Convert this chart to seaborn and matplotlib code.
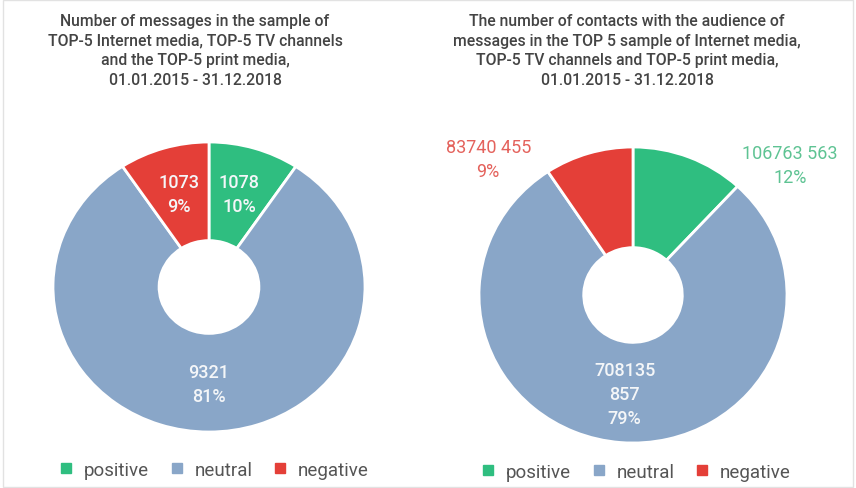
import numpy as np
import seaborn as sns
import matplotlib.pyplot as plt
from matplotlib.lines import Line2D
from matplotlib.patches import Rectangle

# ================================
# Datos
# ================================
categories = ["positive", "neutral", "negative"]

messages = [1078, 9321, 1073]
messages_pct = ["10%", "81%", "9%"]
messages_txt = ["1078", "9321", "1073"]

contacts = [106763563, 708135857, 83740455]
contacts_pct = ["12%", "79%", "9%"]
contacts_txt = ["106763 563", "708135\n857", "83740 455"]

title_left = ("Number of messages in the sample of\n"
              "TOP-5 Internet media, TOP-5 TV channels\n"
              "and the TOP-5 print media,\n"
              "01.01.2015 - 31.12.2018")
title_right = ("The number of contacts with the audience of\n"
               "messages in the TOP 5 sample of Internet media,\n"
               "TOP-5 TV channels and TOP-5 print media,\n"
               "01.01.2015 - 31.12.2018")

# Estilo visual
sns.set_theme(style="white")
plt.rcParams["font.family"] = ["Roboto", "DejaVu Sans"]

colors = sns.color_palette(["#2FBE80", "#89A6C8", "#E43F38"])
outside_colors = {"positive": "#5EC393", "negative": "#E4625C"}
W, H = 856, 489

fig = plt.figure(figsize=(W / 100, H / 100), dpi=100)


def donut_axes(cx, cy, rx, ry, lim=1.4):
    # ejes colocados en pixeles, radio 1 = rx / ry pixeles
    w, h = 2 * lim * rx, 2 * lim * ry
    ax = fig.add_axes([(cx - w / 2) / W, (H - cy - h / 2) / H, w / W, h / H])
    return ax


def donut(ax, values, texts, pcts, outside=None, lim=1.4):
    wedges, _ = ax.pie(values, colors=colors, startangle=90, counterclock=False,
                       wedgeprops=dict(width=0.68, edgecolor="white", linewidth=2))
    ax.set_aspect("auto")
    ax.set_xlim(-lim, lim)
    ax.set_ylim(-lim, lim)
    ax.axis("off")
    for cat, w, t, p in zip(categories, wedges, texts, pcts):
        if outside and cat in outside:
            x, y = outside[cat]
            ax.text(x, y, t + "\n" + p, ha="center", va="center", fontsize=13,
                    color=outside_colors[cat], linespacing=1.45)
        else:
            ang = np.deg2rad((w.theta1 + w.theta2) / 2)
            ax.text(0.67 * np.cos(ang), 0.67 * np.sin(ang), t + "\n" + p,
                    ha="center", va="center", fontsize=13, color="#F4F6F8",
                    fontweight="medium", linespacing=1.45)
    return wedges


# ==========================================================
# GRAFICA 1 - mensajes
# ==========================================================
ax1 = donut_axes(209, 288, 156, 145)
donut(ax1, messages, messages_txt, messages_pct)

# ==========================================================
# GRAFICA 2 - contactos
# ==========================================================
ax2 = donut_axes(633, 296, 154, 148)
donut(ax2, contacts, contacts_txt, contacts_pct,
      outside={"positive": (1.02, 0.88), "negative": (-0.94, 0.92)})

# Titulos
fig.text(195 / W, 1 - 51 / H, title_left, ha="center", va="center", fontsize=11.3,
         fontweight="medium", color="#444444", linespacing=1.4)
fig.text(627 / W, 1 - 51 / H, title_right, ha="center", va="center", fontsize=11.3,
         fontweight="medium", color="#444444", linespacing=1.4)

# Leyendas
handles = [Line2D([], [], marker="s", linestyle="", markersize=6.5, color=c)
           for c in colors]
for cx, cy in [(214, 471), (636, 473)]:
    fig.legend(handles, categories, loc="center", ncol=3,
               bbox_to_anchor=(cx / W, 1 - cy / H), frameon=False,
               fontsize=13.5, handlelength=0.7, handletextpad=0.6,
               columnspacing=1.1, labelcolor="#555555")

# Marco
fig.patches.append(Rectangle((0.003, 0.003), 0.994, 0.994, transform=fig.transFigure,
                             fill=False, edgecolor="#E2E2E2", linewidth=1))

plt.savefig("out.png", dpi=100)
